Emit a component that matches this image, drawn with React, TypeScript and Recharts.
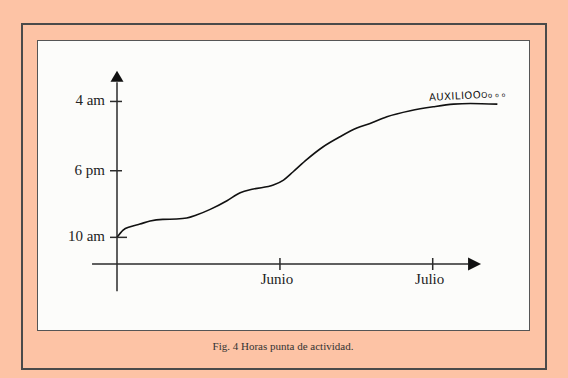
import { LineChart, Line, XAxis, YAxis, ReferenceLine, ReferenceDot } from "recharts"

// días desde el origen del eje X
const MESES = ["Junio", "Julio"]
const MESES_DIA = [32, 62]

// niveles del eje Y (10 am = 1, 6 pm = 2, 4 am ≈ 3.04)
const HORAS = ["10 am", "6 pm", "4 am"]
const HORAS_NIVEL = [1, 2, 3.04]

const DIAS = [0, 1.2, 2.6, 4.5, 6.5, 9, 11.7, 13.7, 15.6, 18.3, 21.6, 24.2, 26.8, 30.7, 32.7, 34.6, 37.3, 40.5, 43.8, 47.1, 49.7, 53, 57.6, 62.1, 66.1, 69.4, 74.7]
const ACTIVIDAD = [1, 1.11, 1.16, 1.2, 1.245, 1.27, 1.275, 1.29, 1.335, 1.42, 1.55, 1.67, 1.725, 1.785, 1.86, 1.985, 2.17, 2.36, 2.51, 2.64, 2.71, 2.81, 2.9, 2.96, 3.0, 3.01, 3.0]

const data = DIAS.map((d, i) => ({ dia: d, nivel: ACTIVIDAD[i] }))

const INK = "#2b2b2b"
const SERIF = "Liberation Serif, Times New Roman, serif"

function XTick({ x, y, payload }: any) {
  const i = MESES_DIA.indexOf(payload.value)
  return (
    <g>
      <line x1={x} x2={x} y1={y - 6} y2={y + 6} stroke={INK} strokeWidth={1.5} />
      <text x={x - 3} y={y + 20} textAnchor="middle" fontFamily={SERIF} fontSize={15} fill="#222">
        {MESES[i]}
      </text>
    </g>
  )
}

function YTick({ x, y, payload }: any) {
  const i = HORAS_NIVEL.indexOf(payload.value)
  const right = payload.value === 1 ? 10 : 5
  return (
    <g>
      <line x1={x - 7} x2={x + right} y1={y} y2={y} stroke={INK} strokeWidth={1.5} />
      <text x={x - 12} y={y + 4} textAnchor="end" fontFamily={SERIF} fontSize={15} fill="#222">
        {HORAS[i]}
      </text>
    </g>
  )
}

const arrowRight = ({ cx, cy }: any) => (
  <path d={`M${cx},${cy} L${cx - 13},${cy - 6.5} L${cx - 13},${cy + 6.5} Z`} fill="#111" />
)
const arrowUp = ({ cx, cy }: any) => (
  <path d={`M${cx},${cy} L${cx - 6.5},${cy + 11} L${cx + 6.5},${cy + 11} Z`} fill="#111" />
)
const grito = ({ cx, cy }: any) => (
  <text
    x={cx}
    y={cy}
    fontFamily="DejaVu Sans, sans-serif"
    fill="#111"
    transform={`rotate(-3 ${cx} ${cy})`}
    letterSpacing={0.5}
  >
    <tspan fontSize={10}>AUXILIOO</tspan>
    <tspan fontSize={8}>O</tspan>
    <tspan fontSize={7}>o</tspan>
    <tspan fontSize={6}> o</tspan>
    <tspan fontSize={6}> o</tspan>
  </text>
)

export default function App() {
  return (
    <div style={{ position: "absolute", left: 0, top: 0, width: 568, height: 378, background: "#FDC3A5", overflow: "hidden" }}>
      <div style={{ position: "absolute", left: 21, top: 23, width: 522, height: 343, border: "2px solid #4a4a4a" }} />
      <div style={{ position: "absolute", left: 37, top: 40, width: 491, height: 289, border: "1.5px solid #555", background: "#FCFCFA" }} />
      <div style={{ position: "absolute", left: 21, top: 340, width: 524, textAlign: "center", fontFamily: SERIF, fontSize: 11, color: "#333" }}>
        Fig. 4 Horas punta de actividad.
      </div>
      <div style={{ position: "absolute", left: 0, top: 0 }}>
        <LineChart width={568} height={378} data={data} margin={{ top: 70.8, right: 64, left: 57, bottom: 84 }}>
          <XAxis
            type="number"
            dataKey="dia"
            domain={[0, 76]}
            ticks={MESES_DIA}
            axisLine={false}
            tickLine={false}
            tickSize={0}
            tickMargin={0}
            height={30}
            tick={<XTick />}
            interval={0}
          />
          <YAxis
            type="number"
            domain={[0.6, 3.5]}
            ticks={HORAS_NIVEL}
            axisLine={false}
            tickLine={false}
            tickSize={0}
            tickMargin={0}
            width={60}
            tick={<YTick />}
            interval={0}
          />
          <ReferenceLine segment={[{ x: -4.9, y: 0.6 }, { x: 69, y: 0.6 }]} stroke={INK} strokeWidth={1.5} ifOverflow="visible" />
          <ReferenceLine segment={[{ x: 0, y: 0.19 }, { x: 0, y: 3.33 }]} stroke={INK} strokeWidth={1.5} ifOverflow="visible" />
          <ReferenceDot x={71.5} y={0.6} r={0} shape={arrowRight} ifOverflow="visible" />
          <ReferenceDot x={0} y={3.5} r={0} shape={arrowUp} ifOverflow="visible" />
          <ReferenceDot x={61.3} y={3.05} r={0} shape={grito} ifOverflow="visible" />
          <Line type="monotone" dataKey="nivel" stroke="#111" strokeWidth={1.6} dot={false} isAnimationActive={false} />
        </LineChart>
      </div>
    </div>
  )
}
